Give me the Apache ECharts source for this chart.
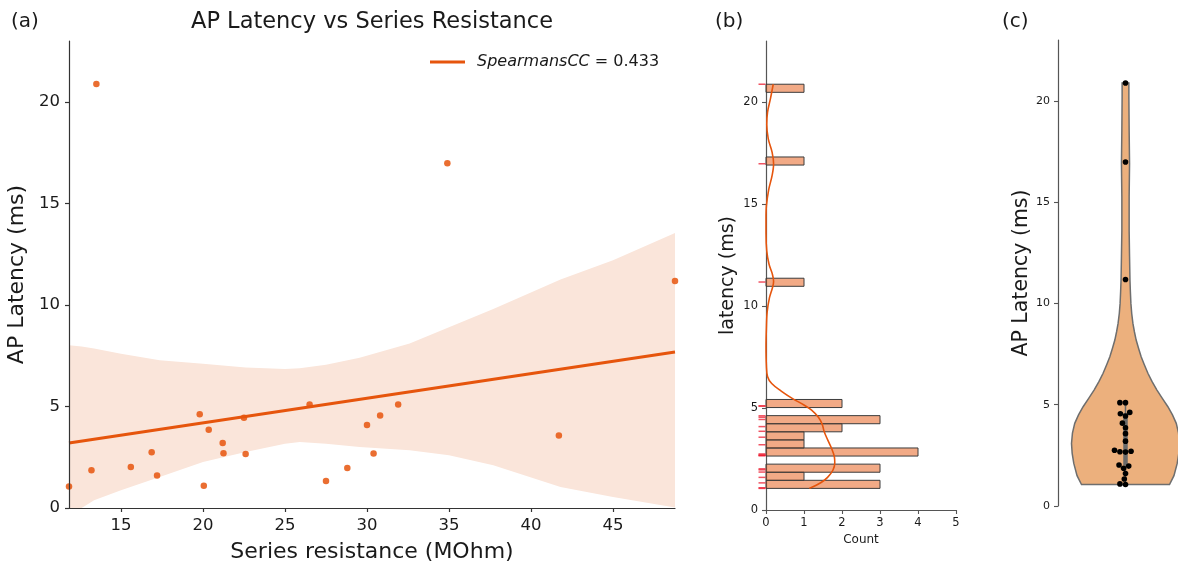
<!DOCTYPE html>
<html>
<head>
<meta charset="utf-8">
<script src="https://cdn.jsdelivr.net/npm/echarts@6/dist/echarts.min.js"></script>
<style>
  html, body { margin: 0; padding: 0; background: #ffffff; }
  #main { width: 1178px; height: 563px; }
</style>
</head>
<body>
<div id="main"></div>
<script>
// Series resistance (MOhm) and AP latency (ms), one entry per cell
const resistance = [11.83, 13.5, 13.2, 15.6, 16.87, 17.2, 19.8, 20.05, 20.35, 21.2, 21.25, 22.5,
                    22.6, 26.5, 27.5, 28.8, 30.0, 30.4, 30.8, 31.9, 34.9, 41.7, 48.78];
const latency    = [1.06, 20.88, 1.86, 2.02, 2.75, 1.6, 4.62, 1.09, 3.86, 3.2, 2.7, 4.44,
                    2.66, 5.1, 1.33, 1.97, 4.09, 2.68, 4.55, 5.1, 16.98, 3.57, 11.18];
const spearmanLabel = '0.433';

// Regression line end points and its confidence band
const fitResistance = [11.83, 48.78];
const fitLatency    = [3.2, 7.68];
const ciResistance = [11.83, 12.6, 13.36, 15, 17.36, 20, 22.6, 25, 25.9, 27.5, 29.55, 32.6, 35, 37.7, 41.8, 45, 48.78];
const ciLower      = [-0.25, 0.0, 0.38, 0.87, 1.53, 2.27, 2.76, 3.17, 3.25, 3.17, 3.0, 2.85, 2.6, 2.1, 1.04, 0.54, 0.03];
const ciUpper      = [8.02, 7.95, 7.85, 7.6, 7.28, 7.1, 6.92, 6.85, 6.88, 7.05, 7.4, 8.1, 8.9, 9.8, 11.25, 12.2, 13.55];

// Density curve over the latency histogram (in counts)
const kdeCount   = [1.14, 1.45, 1.62, 1.76, 1.81, 1.80, 1.73, 1.62, 1.53, 1.48, 1.38, 1.20, 1.0, 0.70, 0.40, 0.15, 0.04,
                    0.01, 0.0, 0.01, 0.03, 0.09, 0.17, 0.20, 0.17, 0.08, 0.02, 0.0, 0.0, 0.01, 0.07, 0.16, 0.20, 0.16,
                    0.06, 0.02, 0.04, 0.12, 0.19];
const kdeLatency = [1.06, 1.35, 1.6, 1.95, 2.3, 2.6, 3.0, 3.45, 3.85, 4.2, 4.55, 4.9, 5.15, 5.46, 5.83, 6.2, 6.55,
                    7.1, 8.0, 8.9, 9.7, 10.4, 10.9, 11.2, 11.55, 12.05, 12.7, 13.6, 14.3, 14.9, 15.7, 16.4, 16.97, 17.55,
                    18.2, 18.9, 19.5, 20.2, 20.88];
const histBinCount = 50;

// Violin outline: latency levels and half widths (category units)
const violinLatency   = [1.06, 1.5, 2.1, 2.6, 3.09, 3.6, 4.08, 4.5, 4.9, 5.3, 5.72, 6.15, 6.55, 7.0, 7.37, 7.8,
                         8.19, 8.6, 9.01, 9.5, 10.0, 10.6, 11.15, 12.3, 13.6, 15.26, 16.9, 18.55, 20.2, 20.88];
const violinHalfWidth = [0.326, 0.359, 0.383, 0.395, 0.40, 0.393, 0.376, 0.348, 0.314, 0.274, 0.233, 0.196, 0.166,
                         0.138, 0.116, 0.096, 0.079, 0.066, 0.055, 0.046, 0.040, 0.036, 0.033, 0.030, 0.027, 0.027,
                         0.030, 0.027, 0.025, 0.025];
// Inner box: whisker ends and quartiles
const boxWhisker  = [1.06, 5.1];
const boxQuartile = [2.0, 4.58];

// Tick labels
const resistanceTicks = [15, 20, 25, 30, 35, 40, 45];
const latencyTicks    = [0, 5, 10, 15, 20];

// ---- histogram bins built from the latency values ----
const latMin = Math.min.apply(null, latency);
const latMax = Math.max.apply(null, latency);
const binW = (latMax - latMin) / histBinCount;
const binCounts = new Array(histBinCount).fill(0);
latency.forEach(v => {
  let k = Math.floor((v - latMin) / binW);
  if (k >= histBinCount) k = histBinCount - 1;
  binCounts[k]++;
});
const histBins = [];
binCounts.forEach((c, k) => { if (c > 0) histBins.push([latMin + k * binW, latMin + (k + 1) * binW, c]); });

const FONT = 'DejaVu Sans';
const ORANGE = '#E6550D';
const TXT = '#1a1a1a';

const chart = echarts.init(document.getElementById('main'), null, { renderer: 'canvas' });

function axisLineStyle(color) { return { show: true, onZero: false, lineStyle: { color: color, width: 1.2 } }; }

const option = {
  animation: false,
  backgroundColor: '#ffffff',
  textStyle: { fontFamily: FONT },
  title: [
    { text: 'AP Latency vs Series Resistance', left: 372, top: 11, textAlign: 'center', padding: 0,
      textStyle: { fontFamily: FONT, fontSize: 22.5, fontWeight: 'normal', color: TXT } },
    { text: '(a)', left: 11, top: 12, padding: 0, textStyle: { fontFamily: FONT, fontSize: 20, fontWeight: 'normal', color: TXT } },
    { text: '(b)', left: 715, top: 12, padding: 0, textStyle: { fontFamily: FONT, fontSize: 20, fontWeight: 'normal', color: TXT } },
    { text: '(c)', left: 1002, top: 12, padding: 0, textStyle: { fontFamily: FONT, fontSize: 20, fontWeight: 'normal', color: TXT } }
  ],
  legend: {
    data: ['spearman'],
    left: 430, top: 54, padding: 0,
    icon: 'rect', itemWidth: 35, itemHeight: 3,
    formatter: () => '{i|SpearmansCC} = ' + spearmanLabel,
    textStyle: {
      fontFamily: FONT, fontSize: 16, color: TXT, padding: [0, 0, 0, 7],
      rich: { i: { fontFamily: FONT, fontSize: 16, fontStyle: 'italic', color: TXT } }
    }
  },
  grid: [
    { left: 69, top: 41, width: 606, height: 467, outerBoundsMode: 'none', containLabel: false },
    { left: 766, top: 41, width: 190, height: 469, outerBoundsMode: 'none', containLabel: false },
    { left: 1058, top: 40, width: 135, height: 466, outerBoundsMode: 'none', containLabel: false }
  ],
  xAxis: [
    {
      gridIndex: 0, type: 'value', min: 11.83, max: 48.78, z: 5,
      axisLine: axisLineStyle('#333'),
      axisTick: { show: true, length: 4, customValues: resistanceTicks, lineStyle: { color: '#333', width: 1.2 } },
      axisLabel: { customValues: resistanceTicks, fontFamily: FONT, fontSize: 16.5, color: TXT, margin: 9 },
      splitLine: { show: false },
      name: 'Series resistance (MOhm)', nameLocation: 'middle', nameGap: 33,
      nameTextStyle: { fontFamily: FONT, fontSize: 22, color: TXT }
    },
    {
      gridIndex: 1, type: 'value', min: 0, max: 5, interval: 1,
      axisLine: axisLineStyle('#555'),
      axisTick: { show: true, length: 4, lineStyle: { color: '#555', width: 1.1 } },
      axisLabel: { fontFamily: FONT, fontSize: 11.5, color: TXT, margin: 7 },
      splitLine: { show: false },
      name: 'Count', nameLocation: 'middle', nameGap: 24,
      nameTextStyle: { fontFamily: FONT, fontSize: 12, color: TXT }
    },
    {
      gridIndex: 2, type: 'value', min: -0.5, max: 0.5, show: false
    }
  ],
  yAxis: [
    {
      gridIndex: 0, type: 'value', min: 0, max: 23, z: 5,
      axisLine: axisLineStyle('#333'),
      axisTick: { show: true, length: 4, customValues: latencyTicks, lineStyle: { color: '#333', width: 1.2 } },
      axisLabel: { customValues: latencyTicks, fontFamily: FONT, fontSize: 16.5, color: TXT, margin: 9 },
      splitLine: { show: false },
      name: 'AP Latency (ms)', nameLocation: 'middle', nameGap: 33,
      nameTextStyle: { fontFamily: FONT, fontSize: 22, color: TXT }
    },
    {
      gridIndex: 1, type: 'value', min: 0, max: 23,
      axisLine: axisLineStyle('#555'),
      axisTick: { show: true, length: 4, customValues: latencyTicks, lineStyle: { color: '#555', width: 1.1 } },
      axisLabel: { customValues: latencyTicks, fontFamily: FONT, fontSize: 11.5, color: TXT, margin: 8 },
      splitLine: { show: false },
      name: 'latency (ms)', nameLocation: 'middle', nameGap: 28,
      nameTextStyle: { fontFamily: FONT, fontSize: 19, color: TXT }
    },
    {
      gridIndex: 2, type: 'value', min: 0, max: 23, z: 5,
      axisLine: axisLineStyle('#555'),
      axisTick: { show: true, length: 4, customValues: latencyTicks, lineStyle: { color: '#555', width: 1.1 } },
      axisLabel: { customValues: latencyTicks, fontFamily: FONT, fontSize: 11, color: TXT, margin: 8 },
      splitLine: { show: false },
      name: 'AP Latency (ms)', nameLocation: 'middle', nameGap: 26,
      nameTextStyle: { fontFamily: FONT, fontSize: 20.5, color: TXT }
    }
  ],
  series: [
    // confidence band around the fitted line, kept inside the plot area
    {
      type: 'custom', xAxisIndex: 0, yAxisIndex: 0,
      data: [[ciResistance[0], ciUpper[0]]],
      renderItem: (params, api) => {
        const pts = [];
        for (let i = 0; i < ciResistance.length; i++) pts.push(api.coord([ciResistance[i], ciUpper[i]]));
        for (let i = ciResistance.length - 1; i >= 0; i--) pts.push(api.coord([ciResistance[i], ciLower[i]]));
        const cs = params.coordSys;
        const clipped = echarts.graphic.clipPointsByRect(pts, { x: cs.x, y: cs.y, width: cs.width, height: cs.height });
        return { type: 'polygon', shape: { points: clipped }, style: { fill: '#FAE5DA' } };
      },
      silent: true, z: 1
    },
    {
      type: 'scatter', xAxisIndex: 0, yAxisIndex: 0,
      data: resistance.map((x, i) => [x, latency[i]]),
      symbolSize: 6.5, itemStyle: { color: ORANGE, opacity: 0.85 }, z: 2
    },
    {
      name: 'spearman', type: 'line', xAxisIndex: 0, yAxisIndex: 0,
      data: fitResistance.map((x, i) => [x, fitLatency[i]]),
      symbol: 'none', lineStyle: { color: ORANGE, width: 3 }, itemStyle: { color: ORANGE }, z: 3
    },
    // histogram of latency, bars lying horizontally
    {
      type: 'custom', xAxisIndex: 1, yAxisIndex: 1,
      data: histBins,
      renderItem: (params, api) => {
        const a = api.coord([0, api.value(0)]);
        const b = api.coord([api.value(2), api.value(1)]);
        return {
          type: 'rect',
          shape: { x: a[0], y: b[1], width: b[0] - a[0], height: a[1] - b[1] },
          style: { fill: 'rgba(230,85,13,0.5)', stroke: '#3c3c3c', lineWidth: 1 }
        };
      },
      z: 2
    },
    {
      type: 'line', xAxisIndex: 1, yAxisIndex: 1,
      data: kdeCount.map((c, i) => [c, kdeLatency[i]]),
      symbol: 'none', smooth: 0.35, lineStyle: { color: ORANGE, width: 1.6 }, z: 3
    },
    // rug marks at each latency value
    {
      type: 'custom', xAxisIndex: 1, yAxisIndex: 1,
      data: latency.map(v => [0, v]),
      renderItem: (params, api) => {
        const p = api.coord([0, api.value(1)]);
        return {
          type: 'line',
          shape: { x1: p[0] - 7.5, y1: p[1], x2: p[0] - 0.5, y2: p[1] },
          style: { stroke: 'rgba(235,25,45,0.75)', lineWidth: 1.5 }
        };
      },
      z: 4
    },
    // violin body with its inner box
    {
      type: 'custom', xAxisIndex: 2, yAxisIndex: 2,
      data: [[0, 0]],
      renderItem: (params, api) => {
        const pts = [];
        for (let i = 0; i < violinLatency.length; i++) pts.push(api.coord([-violinHalfWidth[i], violinLatency[i]]));
        for (let i = violinLatency.length - 1; i >= 0; i--) pts.push(api.coord([violinHalfWidth[i], violinLatency[i]]));
        const w0 = api.coord([0, boxWhisker[0]]), w1 = api.coord([0, boxWhisker[1]]);
        const q0 = api.coord([0, boxQuartile[0]]), q1 = api.coord([0, boxQuartile[1]]);
        return {
          type: 'group',
          children: [
            { type: 'polygon', shape: { points: pts }, style: { fill: '#ECB07D', stroke: '#6e6e6e', lineWidth: 1.5 } },
            { type: 'line', shape: { x1: w0[0], y1: w0[1], x2: w1[0], y2: w1[1] }, style: { stroke: '#6a6a6a', lineWidth: 1.5 } },
            { type: 'line', shape: { x1: q0[0], y1: q0[1], x2: q1[0], y2: q1[1] }, style: { stroke: '#6a6a6a', lineWidth: 4.5 } }
          ]
        };
      },
      z: 2
    },
    // swarm of individual latency values over the violin
    {
      type: 'custom', xAxisIndex: 2, yAxisIndex: 2,
      data: [[0, 0]],
      renderItem: (params, api) => {
        const d = 5.6;
        const center = api.coord([0, 0])[0];
        const order = latency.map((v, i) => i).sort((a, b) => latency[a] - latency[b]);
        const placed = [];
        order.forEach(i => {
          const y = api.coord([0, latency[i]])[1];
          const near = placed.filter(p => Math.abs(p.y - y) < d);
          const cand = [0];
          near.forEach(n => {
            const dx = Math.sqrt(d * d - (n.y - y) * (n.y - y));
            cand.push(n.x - dx, n.x + dx);
          });
          const sorted = cand.map((c, k) => [c, k]).sort((a, b) => (Math.abs(a[0]) - Math.abs(b[0])) || (a[1] - b[1]));
          let x = sorted[0][0];
          for (const [c] of sorted) {
            if (near.every(n => (n.x - c) * (n.x - c) + (n.y - y) * (n.y - y) >= d * d - 1e-3)) { x = c; break; }
          }
          placed.push({ x: x, y: y });
        });
        return {
          type: 'group',
          children: placed.map(p => ({
            type: 'circle', shape: { cx: center + p.x, cy: p.y, r: 2.8 }, style: { fill: '#000000' }
          }))
        };
      },
      z: 3
    }
  ]
};

chart.setOption(option);
</script>
</body>
</html>
